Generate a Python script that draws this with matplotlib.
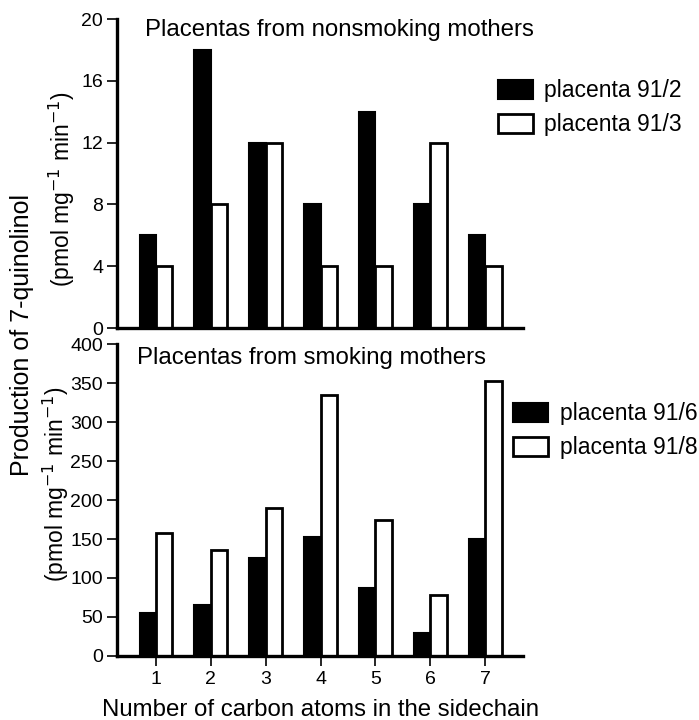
import numpy as np
import matplotlib
matplotlib.use("Agg")
import matplotlib.pyplot as plt

# data
carbons = [1, 2, 3, 4, 5, 6, 7]
p91_2 = [6, 18, 12, 8, 14, 8, 6]        # nonsmoking
p91_3 = [4, 8, 12, 4, 4, 12, 4]
p91_6 = [55, 65, 125, 152, 87, 30, 150]  # smoking
p91_8 = [158, 136, 190, 335, 175, 78, 352]

top_ticks = [0, 4, 8, 12, 16, 20]
bot_ticks = [0, 50, 100, 150, 200, 250, 300, 350, 400]

plt.rcParams['font.family'] = ['Liberation Sans', 'DejaVu Sans']
plt.rcParams['font.size'] = 14

fig = plt.figure(figsize=(6.99, 7.2), dpi=100)
ax1 = fig.add_axes([0.1674, 0.5444, 0.5808, 0.4292])
ax2 = fig.add_axes([0.1674, 0.0889, 0.5808, 0.4333])

x = np.array(carbons)
w = 0.3


def style(ax, ylim, ticks):
    ax.set_xlim(0.29, 7.69)
    ax.set_ylim(*ylim)
    ax.set_yticks(ticks)
    ax.set_yticks([ylim[1]], minor=True)
    for s in ['top', 'right']:
        ax.spines[s].set_visible(False)
    for s in ['left', 'bottom']:
        ax.spines[s].set_linewidth(2.4)
    ax.tick_params(axis='y', which='major', direction='out', length=7, width=1.2, labelsize=14, pad=3)
    ax.tick_params(axis='y', which='minor', direction='in', length=7, width=1.2)


leg_kw = dict(loc='center left', frameon=False, fontsize=16.5, bbox_transform=fig.transFigure,
              handlelength=1.53, handleheight=0.9, labelspacing=0.48, handletextpad=0.5,
              borderpad=0, borderaxespad=0)

# top panel: nonsmoking
ax1.bar(x - w, p91_2, width=w, align='edge', color='black', edgecolor='black', linewidth=1.5, label='placenta 91/2')
ax1.bar(x, p91_3, width=w, align='edge', color='white', edgecolor='black', linewidth=2, label='placenta 91/3')
style(ax1, (0, 20), top_ticks)
ax1.set_xticks([])
ax1.text(0.069, 1.0, 'Placentas from nonsmoking mothers', transform=ax1.transAxes,
         fontsize=17.3, va='top', ha='left')
ax1.legend(bbox_to_anchor=(0.7124, 0.85), **leg_kw)

# bottom panel: smoking
ax2.bar(x - w, p91_6, width=w, align='edge', color='black', edgecolor='black', linewidth=1.5, label='placenta 91/6')
ax2.bar(x, p91_8, width=w, align='edge', color='white', edgecolor='black', linewidth=2, label='placenta 91/8')
style(ax2, (0, 400), bot_ticks)
ax2.set_xticks(carbons)
ax2.tick_params(axis='x', direction='out', length=7, width=1.2, labelsize=14, pad=4)
ax2.text(0.049, 0.99, 'Placentas from smoking mothers', transform=ax2.transAxes,
         fontsize=17.3, va='top', ha='left')
ax2.legend(bbox_to_anchor=(0.734, 0.402), **leg_kw)
ax2.set_xlabel('Number of carbon atoms in the sidechain', fontsize=17.3, labelpad=8)

# y labels
fig.text(0.031, 0.535, 'Production of 7-quinolinol', rotation=90, fontsize=18,
         ha='center', va='center')
fig.text(0.088, 0.737, '(pmol mg$^{-1}$ min$^{-1}$)', rotation=90, fontsize=16.5,
         ha='center', va='center')
fig.text(0.080, 0.328, '(pmol mg$^{-1}$ min$^{-1}$)', rotation=90, fontsize=16.5,
         ha='center', va='center')

fig.savefig('out.png', dpi=100)
